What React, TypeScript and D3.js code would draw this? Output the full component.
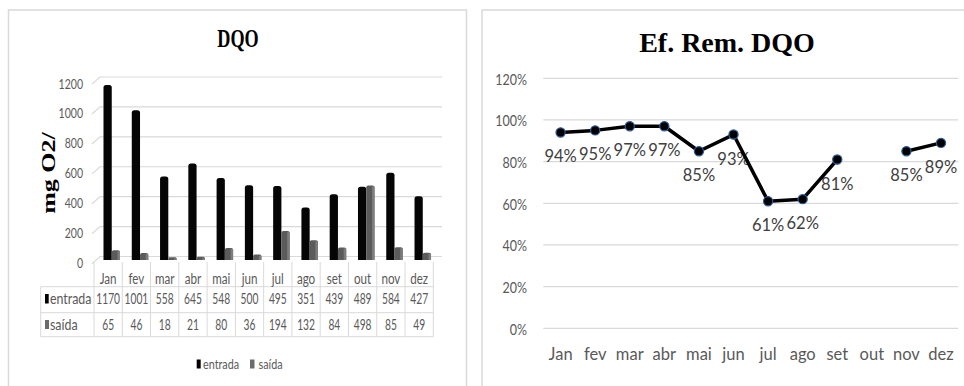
import React from "react";
import * as d3 from "d3";

// Monthly COD (DQO) data, mg O2/l
const months = ["Jan", "fev", "mar", "abr", "mai", "jun", "jul", "ago", "set", "out", "nov", "dez"];
const entrada = [1170, 1001, 558, 645, 548, 500, 495, 351, 439, 489, 584, 427];
const saida = [65, 46, 18, 21, 80, 36, 194, 132, 84, 498, 85, 49];
const seriesNames = ["entrada", "saída"];
// Removal efficiency (%), October missing
const efRem: (number | null)[] = [94, 95, 97, 97, 85, 93, 61, 62, 81, null, 85, 89];

const dqoTicks = [0, 200, 400, 600, 800, 1000, 1200];
const pctTicks = [0, 0.2, 0.4, 0.6, 0.8, 1.0, 1.2];

const SANS = "Lato, 'Open Sans', sans-serif";
const SERIF = "'Liberation Serif', 'Times New Roman', serif";
const GRID = "#d9d9d9";
const TXT = "#595959";

type TProps = {
  x: number;
  y: number;
  sx?: number;
  anchor?: "start" | "middle" | "end";
  size: number;
  fill?: string;
  family?: string;
  weight?: string | number;
  rotate?: number;
  children: React.ReactNode;
};

// Text helper with horizontal squeeze
const T = ({ x, y, sx = 1, anchor = "middle", size, fill = TXT, family = SANS, weight = "normal", rotate = 0, children }: TProps) => (
  <text
    transform={`translate(${x},${y}) scale(${sx},1)${rotate ? ` rotate(${rotate})` : ""}`}
    textAnchor={anchor}
    fontSize={size}
    fill={fill}
    fontFamily={family}
    fontWeight={weight}
  >
    {children}
  </text>
);

const roundTop = (x: number, y: number, w: number, h: number, r: number) => {
  const rr = Math.min(r, h / 2, w / 2);
  return `M${x},${y + h}V${y + rr}Q${x},${y} ${x + rr},${y}H${x + w - rr}Q${x + w},${y} ${x + w},${y + rr}V${y + h}Z`;
};

function DqoChart() {
  const x = d3.scaleBand<string>().domain(months).range([94, 433.3]);
  const xs = d3.scaleBand<string>().domain(seriesNames).range([9.5, 26]);
  const y = d3.scaleLinear().domain([0, 1200]).range([260, 80.5]);
  const bw = xs.bandwidth();
  const tableTop = 286.7;
  const rowMid = 312.7;
  const tableBottom = 336.7;

  return (
    <g>
      {/* panel frame */}
      <rect x={8.5} y={10} width={458} height={400} fill="#fff" stroke={GRID} strokeWidth={1.5} />
      <T x={238} y={46.5} size={26} sx={0.7} family={SERIF} weight="bold" fill="#000">DQO</T>
      <T x={55} y={173} size={26} sx={0.7} family={SERIF} weight="bold" fill="#000" rotate={-90}>mg O2/</T>

      {/* gridlines with 3D wall offset */}
      {dqoTicks.map((t) => (
        <g key={t}>
          <path
            d={`M92,${y(t) + 3.6}L100,${y(t) - 3.5}H442`}
            fill="none"
            stroke={GRID}
            strokeWidth={1.2}
          />
          <T x={83} y={y(t) + 8} size={13.5} sx={0.78} anchor="end">{t}</T>
        </g>
      ))}

      {/* bars */}
      {months.map((m, i) => {
        const x0 = x(m)!;
        const xe = x0 + xs("entrada")!;
        const xsd = x0 + xs("saída")!;
        return (
          <g key={m}>
            <path d={roundTop(xe, y(entrada[i]), bw, y(0) - y(entrada[i]), 2.5)} fill="#050505" />
            <path d={roundTop(xsd, y(saida[i]), bw, y(0) - y(saida[i]), 2)} fill="#5b5b5b" />
            <rect x={xsd + bw - 2.5} y={y(saida[i]) + 1} width={2.5} height={Math.max(0, y(0) - y(saida[i]) - 1)} fill="#7d7d7d" />
          </g>
        );
      })}

      {/* data table */}
      {[...months.map((m) => x(m)!), 433.3].map((vx, i) => (
        <line key={i} x1={vx} x2={vx} y1={262} y2={tableBottom} stroke={GRID} strokeWidth={1} />
      ))}
      <line x1={40.7} x2={40.7} y1={tableTop} y2={tableBottom} stroke={GRID} strokeWidth={1} />
      {[tableTop, rowMid, tableBottom].map((ly) => (
        <line key={ly} x1={40.7} x2={433.3} y1={ly} y2={ly} stroke={GRID} strokeWidth={1} />
      ))}
      {months.map((m, i) => {
        const cx = x(m)! + x.bandwidth() / 2;
        return (
          <g key={m}>
            <T x={cx} y={283.5} size={14.5} sx={0.8}>{m}</T>
            <T x={cx} y={304} size={16} sx={0.64}>{entrada[i]}</T>
            <T x={cx} y={329.5} size={16} sx={0.64}>{saida[i]}</T>
          </g>
        );
      })}
      <rect x={45} y={294} width={3.7} height={9.5} fill="#000" />
      <T x={50} y={304} size={15.5} sx={0.8} anchor="start">entrada</T>
      <rect x={45} y={320} width={4} height={9} fill="#6b6b6b" />
      <T x={50} y={329.5} size={15.5} sx={0.8} anchor="start">saída</T>

      {/* legend */}
      <rect x={196.7} y={359.5} width={4} height={9} fill="#000" />
      <T x={203} y={368.5} size={13.5} sx={0.8} anchor="start">entrada</T>
      <rect x={250} y={359.5} width={4.5} height={9} fill="#6b6b6b" />
      <T x={258.5} y={368.5} size={13.5} sx={0.8} anchor="start">saída</T>
    </g>
  );
}

function EfChart() {
  const x = d3.scaleBand<string>().domain(months).range([543.3, 958.3]);
  const y = d3.scaleLinear().domain([0, 1.2]).range([328.3, 78.3]);
  const cx = (i: number) => x(months[i])! + x.bandwidth() / 2;
  const line = d3
    .line<number | null>()
    .defined((d) => d != null)
    .x((_, i) => cx(i))
    .y((d) => y((d as number) / 100));

  return (
    <g>
      <rect x={482} y={10} width={500} height={400} fill="#fff" stroke={GRID} strokeWidth={1.5} />
      <T x={727} y={52} size={28} family={SERIF} weight="bold" fill="#000">Ef. Rem. DQO</T>

      {pctTicks.map((t) => (
        <g key={t}>
          <line x1={543.3} x2={958.3} y1={y(t)} y2={y(t)} stroke={GRID} strokeWidth={1.2} />
          <T x={527} y={y(t) + 6.5} size={16} sx={0.78} anchor="end">{`${Math.round(t * 100)}%`}</T>
        </g>
      ))}
      {months.map((m, i) => (
        <T key={m} x={cx(i)} y={359.5} size={16.5}>{m}</T>
      ))}

      {efRem.map((v, i) =>
        v == null ? null : (
          <T key={i} x={cx(i)} y={y(v / 100) + 30} size={16.5} fill="#404040">{`${v}%`}</T>
        )
      )}

      <path d={line(efRem) ?? ""} fill="none" stroke="#000" strokeWidth={3.5} strokeLinejoin="round" />
      {efRem.map((v, i) =>
        v == null ? null : (
          <circle key={i} cx={cx(i)} cy={y(v / 100)} r={4.6} fill="#000" stroke="#2e5c9e" strokeWidth={1.2} />
        )
      )}
    </g>
  );
}

export default function App() {
  return (
    <svg
      width={964}
      height={386}
      viewBox="0 0 964 386"
      style={{ position: "absolute", left: 0, top: 0, background: "#fff" }}
    >
      <rect width={964} height={386} fill="#fff" />
      <DqoChart />
      <EfChart />
    </svg>
  );
}
